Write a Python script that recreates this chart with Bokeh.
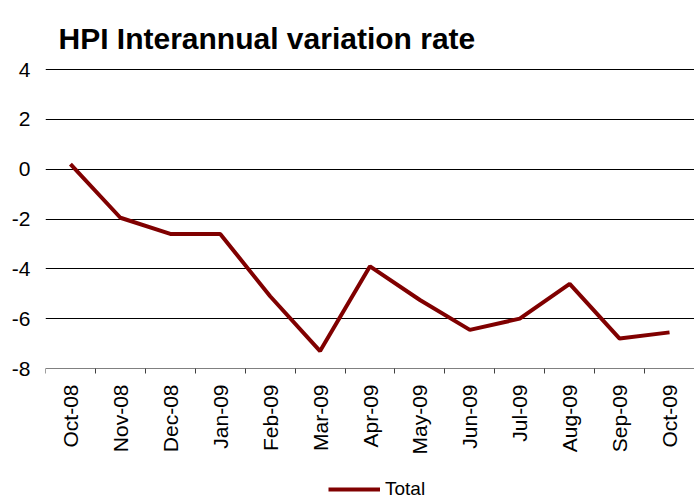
import math
from bokeh.plotting import figure
from bokeh.models import Range1d, FixedTicker, Legend, LegendItem, ColumnDataSource, Label
from bokeh.embed import file_html
from bokeh.resources import INLINE

months = ["Oct-08", "Nov-08", "Dec-08", "Jan-09", "Feb-09", "Mar-09", "Apr-09",
          "May-09", "Jun-09", "Jul-09", "Aug-09", "Sep-09", "Oct-09"]
total = [0.2, -1.95, -2.6, -2.6, -5.1, -7.3, -3.9, -5.25, -6.45, -6.0, -4.6, -6.8, -6.55]
y_ticks = [-8, -6, -4, -2, 0, 2, 4]
title_text = "HPI Interannual variation rate"

FONT = "Liberation Sans"
idx = list(range(len(months)))
src = ColumnDataSource(data=dict(x=idx, y=total, month=months))

# Frame covers the full canvas height; value scale: -8 at y=368px, 4 at y=69px.
H = 500
AXIS_Y_PX = 368
PX_PER_UNIT = 299 / 12.0
y_top = 4 + 69 / PX_PER_UNIT
y_bottom = -8 - (H - AXIS_Y_PX) / PX_PER_UNIT

p = figure(width=694, height=H, output_backend="svg", toolbar_location=None,
           x_range=Range1d(-0.5, len(months) - 0.5), y_range=Range1d(y_bottom, y_top),
           min_border_left=45, min_border_right=0, min_border_top=0, min_border_bottom=0)
p.title = None

p.outline_line_color = None
p.background_fill_color = "white"
p.border_fill_color = "white"

# title (screen px from the frame's bottom-left)
p.add_layout(Label(x=13, y=H - 38, x_units="screen", y_units="screen", text=title_text,
                   text_font=FONT, text_font_size="30px", text_font_style="bold",
                   text_color="black", text_baseline="alphabetic", text_align="left"))

# x axis, drawn at y = -8
p.xaxis.fixed_location = y_ticks[0]
p.xaxis.ticker = FixedTicker(ticks=idx, minor_ticks=[i - 0.5 for i in range(len(months) + 1)])
p.xaxis.major_label_overrides = {i: m for i, m in enumerate(months)}
p.xaxis.major_label_orientation = math.pi / 2
p.xaxis.major_tick_out = 0
p.xaxis.major_tick_in = 0
p.xaxis.minor_tick_out = 5
p.xaxis.minor_tick_in = 0
p.xaxis.minor_tick_line_color = "#404040"
p.xaxis.axis_line_color = "#808080"
p.xaxis.major_label_standoff = 11
p.xaxis.major_label_text_font = FONT
p.xaxis.major_label_text_font_size = "21px"
p.xaxis.major_label_text_color = "black"
p.xgrid.grid_line_color = None

# y axis
p.yaxis.ticker = FixedTicker(ticks=y_ticks)
p.yaxis.major_label_overrides = {t: str(t) for t in y_ticks}
p.yaxis.axis_line_color = None
p.yaxis.major_tick_out = 0
p.yaxis.major_tick_in = 0
p.yaxis.minor_tick_line_color = None
p.yaxis.major_label_standoff = 15
p.yaxis.major_label_text_font = FONT
p.yaxis.major_label_text_font_size = "21px"
p.yaxis.major_label_text_color = "black"
p.ygrid.ticker = FixedTicker(ticks=y_ticks[1:])
p.ygrid.grid_line_color = "black"
p.ygrid.grid_line_width = 1

r = p.line("x", "y", source=src, line_color="#800000", line_width=4)

legend = Legend(items=[LegendItem(label="Total", renderers=[r])],
                location=(283, 0), orientation="horizontal",
                padding=0, margin=0, border_line_color=None, background_fill_alpha=0,
                glyph_width=52, glyph_height=20, label_standoff=5,
                label_text_font=FONT, label_text_font_size="19px", label_text_color="black")
p.add_layout(legend)

open("out.html", "w").write(file_html(p, INLINE))
